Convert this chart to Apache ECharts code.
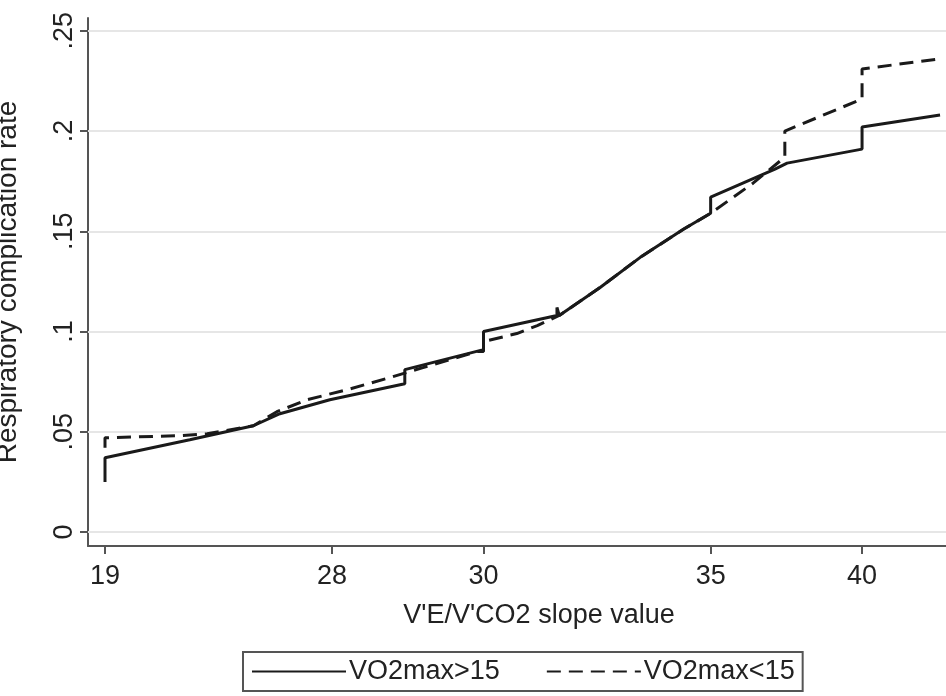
<!DOCTYPE html>
<html lang="en" style="height: 100%">
<head>
  <meta charset="utf-8">
</head>
<body style="height: 100%; margin: 0; background: #fff">
  <div id="container" style="width: 946px; height: 696px;"></div>

  <script type="text/javascript" src="https://cdn.jsdelivr.net/npm/echarts@6/dist/echarts.min.js"></script>
  <script type="text/javascript">
    // x axis is an ordinal position; ticks carry the slope values
    var xTickPos = [0, 3, 5, 8, 10];
    var xTickLabels = ['19', '28', '30', '35', '40'];
    var yTicks = [0, 0.05, 0.1, 0.15, 0.2, 0.25];
    var yTickLabels = ['0', '.05', '.1', '.15', '.2', '.25'];

    // VO2max>15 (solid)
    var solidX = [0, 0, 1.12, 1.96, 2.31, 2.97, 3.96, 3.96, 5.0, 5.0, 5.97, 5.97, 6.0, 6.54, 7.07, 7.64, 8.0, 8.0, 8.85, 9.01, 10.0, 10.0, 11.03];
    var solidY = [0.025, 0.037, 0.046, 0.053, 0.059, 0.066, 0.074, 0.081, 0.091, 0.100, 0.108, 0.112, 0.108, 0.122, 0.137, 0.151, 0.159, 0.167, 0.181, 0.184, 0.191, 0.202, 0.208];

    // VO2max<15 (dashed)
    var dashX = [0, 0, 0.95, 1.35, 1.96, 2.27, 2.67, 3.20, 3.76, 4.20, 4.91, 5.0, 5.0, 5.44, 5.71, 6.0, 6.54, 7.07, 7.64, 8.0, 8.56, 8.98, 8.98, 10.0, 10.0, 11.03];
    var dashY = [0.042, 0.047, 0.048, 0.049, 0.053, 0.060, 0.066, 0.071, 0.077, 0.082, 0.090, 0.090, 0.095, 0.099, 0.103, 0.108, 0.122, 0.137, 0.151, 0.159, 0.174, 0.187, 0.200, 0.216, 0.231, 0.236];

    function pairs(xs, ys) {
      var out = [];
      for (var i = 0; i < xs.length; i++) out.push([xs[i], ys[i]]);
      return out;
    }

    var font = "'Liberation Sans', Arial, sans-serif";
    var ink = '#222';

    var myChart = echarts.init(document.getElementById('container'), null, { renderer: 'canvas' });

    var option = {
      animation: false,
      backgroundColor: '#fff',
      textStyle: { fontFamily: font, color: ink },
      grid: { left: 88, right: -44, top: 18, bottom: 150, outerBoundsMode: 'none' },
      legend: {
        left: 243,
        top: 652,
        padding: [6, 8],
        itemWidth: 94,
        itemHeight: 20,
        itemGap: 46,
        borderColor: '#555',
        borderWidth: 2,
        itemStyle: { opacity: 0, borderWidth: 0 },
        textStyle: { fontSize: 27, color: ink, fontFamily: font, padding: [0, 0, 0, -2] },
        data: ['VO2max>15', 'VO2max<15']
      },
      xAxis: {
        type: 'value',
        min: -0.2246,
        max: 11.69,
        name: "V'E/V'CO2 slope value",
        nameLocation: 'middle',
        nameGap: 56,
        nameMoveOverlap: false,
        nameTextStyle: { fontSize: 27, color: ink, fontFamily: font },
        axisLine: { onZero: false, lineStyle: { color: '#555', width: 2 } },
        axisTick: { customValues: xTickPos, length: 8, lineStyle: { color: '#555', width: 2 } },
        axisLabel: {
          customValues: xTickPos,
          margin: 17,
          fontSize: 27,
          color: ink,
          fontFamily: font,
          formatter: function (v) {
            var i = xTickPos.indexOf(v);
            return i >= 0 ? xTickLabels[i] : '';
          }
        },
        splitLine: { show: false }
      },
      yAxis: {
        type: 'value',
        min: -0.00698,
        max: 0.2564,
        name: 'Respiratory complication rate',
        nameLocation: 'middle',
        nameRotate: 90,
        nameGap: 66,
        nameMoveOverlap: false,
        nameTextStyle: { fontSize: 28, color: ink, fontFamily: font },
        axisLine: { show: true, onZero: false, lineStyle: { color: '#555', width: 2 } },
        axisTick: { show: true, customValues: yTicks, length: 8, lineStyle: { color: '#555', width: 2 } },
        axisLabel: {
          customValues: yTicks,
          rotate: 90,
          margin: 10,
          fontSize: 27,
          color: ink,
          fontFamily: font,
          formatter: function (v) {
            for (var i = 0; i < yTicks.length; i++) {
              if (Math.abs(yTicks[i] - v) < 1e-9) return yTickLabels[i];
            }
            return '';
          }
        },
        splitLine: { show: false }
      },
      series: [
        {
          name: 'VO2max>15',
          type: 'line',
          symbol: 'none',
          data: pairs(solidX, solidY),
          lineStyle: { color: '#1a1a1a', width: 3, type: 'solid' },
          itemStyle: { color: '#1a1a1a' },
          markLine: {
            silent: true,
            symbol: 'none',
            label: { show: false },
            lineStyle: { color: '#e6e6e6', width: 2, type: 'solid' },
            data: yTicks.map(function (t) { return { yAxis: t }; }),
            z: 1
          },
          z: 3
        },
        {
          name: 'VO2max<15',
          type: 'line',
          symbol: 'none',
          data: pairs(dashX, dashY),
          lineStyle: { color: '#1a1a1a', width: 3, type: [14, 8] },
          itemStyle: { color: '#1a1a1a' },
          z: 3
        }
      ]
    };

    myChart.setOption(option);
    window.addEventListener('resize', myChart.resize);
  </script>
</body>
</html>
